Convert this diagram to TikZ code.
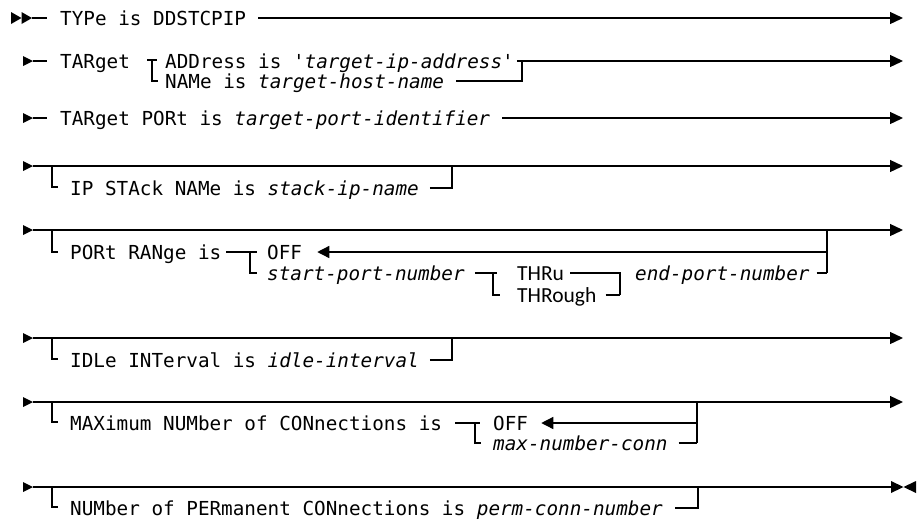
\documentclass[tikz,border=0pt]{standalone}
\usepackage{fontspec}
\newfontfamily\rrmono{DejaVu Sans Mono}[ItalicFont={DejaVu Sans Mono Oblique}]
\newfontfamily\thrufont{Carlito}
\usetikzlibrary{arrows.meta,calc}
\begin{document}
\begin{tikzpicture}[x=1pt,y=-1pt,
  rr/.style={line width=1.3pt},
  arr/.style={rr,-{Triangle[length=13pt,width=12pt]}},
  larr/.style={rr,-{Triangle[length=12pt,width=12pt]}},
  lbl/.style={anchor=base west,inner sep=0pt,font=\rrmono\fontsize{19.3}{22}\selectfont},
  thr/.style={anchor=base west,inner sep=0pt,font=\thrufont\fontsize{21.5}{22}\selectfont}
]
\useasboundingbox (0,0) rectangle (917,520);

% ---------- Row 1
\fill (11,12) -- (21.5,18) -- (11,24) -- cycle;
\fill (21.5,12) -- (32,18) -- (21.5,24) -- cycle;
\coordinate (r1a) at (32,18); \coordinate (r1b) at (47,18);
\draw[rr] (r1a) -- (r1b);
\node[lbl] (t1) at (60,25) {TYPe is DDSTCPIP};
\coordinate (r1e) at (903,18);
\draw[arr] ([xshift=12pt]t1.east |- r1e) -- (r1e);

% ---------- Row 2
\fill (23,56) -- (33,61) -- (23,66) -- cycle;
\coordinate (r2a) at (33,61); \coordinate (r2b) at (47,61);
\draw[rr] (r2a) -- (r2b);
\node[lbl] (t2) at (60,68) {TARget};
\coordinate (j2a) at (147,60); \coordinate (j2b) at (152,60); \coordinate (j2c) at (157,60);
\coordinate (j2d) at (152,81); \coordinate (j2e) at (158,81);
\draw[rr] (j2a) -- (j2c);
\draw[rr] (j2b) -- (j2d) -- (j2e);
\node[lbl] (t2a) at (165,68) {ADDress is '\textit{target-ip-address}'};
\node[lbl] (t2b) at (165,88) {NAMe is \textit{target-host-name}};
\coordinate (j2f) at (522,61); \coordinate (j2g) at (522,81); \coordinate (r2e) at (903,61);
\draw[arr] ([xshift=3pt]t2a.east |- r2e) -- (r2e);
\draw[rr] ([xshift=12pt]t2b.east |- j2g) -- (j2g) -- (j2f);

% ---------- Row 3
\fill (23,113) -- (33,118) -- (23,123) -- cycle;
\coordinate (r3a) at (33,118); \coordinate (r3b) at (47,118);
\draw[rr] (r3a) -- (r3b);
\node[lbl] (t3) at (60,125) {TARget PORt is \textit{target-port-identifier}};
\coordinate (r3e) at (903,118);
\draw[arr] ([xshift=12pt]t3.east |- r3e) -- (r3e);

% ---------- Row 4
\fill (23,161) -- (33,166) -- (23,171) -- cycle;
\coordinate (r4a) at (33,166); \coordinate (r4e) at (903,166);
\draw[arr] (r4a) -- (r4e);
\coordinate (j4a) at (52,166); \coordinate (j4b) at (52,187); \coordinate (j4c) at (58,187);
\draw[rr] (j4a) -- (j4b) -- (j4c);
\node[lbl] (t4) at (70,195) {IP STAck NAMe is \textit{stack-ip-name}};
\coordinate (j4d) at (452,188); \coordinate (j4e) at (452,166);
\draw[rr] ([xshift=11pt]t4.east |- j4d) -- (j4d) -- (j4e);

% ---------- Row 5
\fill (23,225) -- (33,230) -- (23,235) -- cycle;
\coordinate (r5a) at (33,230); \coordinate (r5e) at (903,230);
\draw[arr] (r5a) -- (r5e);
\coordinate (j5a) at (52,230); \coordinate (j5b) at (52,252); \coordinate (j5c) at (58,252);
\draw[rr] (j5a) -- (j5b) -- (j5c);
\node[lbl] (t5) at (70,259) {PORt RANge is};
\coordinate (j5d) at (250,252); \coordinate (j5e) at (257,252);
\coordinate (j5f) at (250,273); \coordinate (j5g) at (257,273);
\draw[rr] ([xshift=5pt]t5.east |- j5e) -- (j5e);
\draw[rr] (j5d) -- (j5f) -- (j5g);
\node[lbl] (off1) at (267,259) {OFF};
\coordinate (j5h) at (827,252); \coordinate (j5i) at (827,230); \coordinate (j5j) at (827,273);
\draw[larr] (j5h) -- ([xshift=15pt]off1.east |- j5h);
\draw[rr] (j5i) -- (j5j);
\node[lbl] (t5b) at (267,280) {\textit{start-port-number}};
\coordinate (j5k) at (493,273); \coordinate (j5l) at (497,273);
\coordinate (j5m) at (493,295); \coordinate (j5n) at (500,295);
\draw[rr] ([xshift=10pt]t5b.east |- j5l) -- (j5l);
\draw[rr] (j5k) -- (j5m) -- (j5n);
\node[thr] (thru) at (517,280) {THRu};
\node[thr] (through) at (517,302) {THRough};
\coordinate (j5o) at (620,273); \coordinate (j5p) at (620,295);
\draw[rr] ([xshift=6pt]thru.east |- j5o) -- (j5o) -- (j5p);
\draw[rr] ([xshift=9pt]through.east |- j5p) -- (j5p);
\node[lbl] (t5c) at (635,280) {\textit{end-port-number}};
\draw[rr] ([xshift=7pt]t5c.east |- j5j) -- (j5j);

% ---------- Row 6
\fill (23,333) -- (33,338) -- (23,343) -- cycle;
\coordinate (r6a) at (33,338); \coordinate (r6e) at (903,338);
\draw[arr] (r6a) -- (r6e);
\coordinate (j6a) at (52,338); \coordinate (j6b) at (52,359); \coordinate (j6c) at (58,359);
\draw[rr] (j6a) -- (j6b) -- (j6c);
\node[lbl] (t6) at (70,367) {IDLe INTerval is \textit{idle-interval}};
\coordinate (j6d) at (452,360); \coordinate (j6e) at (452,338);
\draw[rr] ([xshift=11pt]t6.east |- j6d) -- (j6d) -- (j6e);

% ---------- Row 7
\fill (23,397) -- (33,402) -- (23,407) -- cycle;
\coordinate (r7a) at (33,402); \coordinate (r7e) at (903,402);
\draw[arr] (r7a) -- (r7e);
\coordinate (j7a) at (52,402); \coordinate (j7b) at (52,422); \coordinate (j7c) at (58,422);
\draw[rr] (j7a) -- (j7b) -- (j7c);
\node[lbl] (t7) at (70,430) {MAXimum NUMber of CONnections is};
\coordinate (j7d) at (475,423); \coordinate (j7e) at (480,423);
\coordinate (j7f) at (475,443); \coordinate (j7g) at (481,443);
\draw[rr] ([xshift=13pt]t7.east |- j7e) -- (j7e);
\draw[rr] (j7d) -- (j7f) -- (j7g);
\node[lbl] (off2) at (493,430) {OFF};
\coordinate (j7h) at (697,423); \coordinate (j7i) at (697,402); \coordinate (j7j) at (697,443);
\draw[larr] (j7h) -- ([xshift=13pt]off2.east |- j7h);
\draw[rr] (j7i) -- (j7j);
\node[lbl] (t7b) at (493,450) {\textit{max-number-conn}};
\draw[rr] ([xshift=11pt]t7b.east |- j7j) -- (j7j);

% ---------- Row 8
\fill (23,482) -- (33,487) -- (23,492) -- cycle;
\coordinate (r8a) at (33,487); \coordinate (r8e) at (892,487);
\draw[rr] (r8a) -- (r8e);
\fill (891,481) -- (903.5,487) -- (891,493) -- cycle;
\fill (916,481) -- (903.5,487) -- (916,493) -- cycle;
\coordinate (j8a) at (52,487); \coordinate (j8b) at (52,507); \coordinate (j8c) at (58,507);
\draw[rr] (j8a) -- (j8b) -- (j8c);
\node[lbl] (t8) at (70,515) {NUMber of PERmanent CONnections is \textit{perm-conn-number}};
\coordinate (j8d) at (698,508); \coordinate (j8e) at (698,487);
\draw[rr] ([xshift=12pt]t8.east |- j8d) -- (j8d) -- (j8e);
\end{tikzpicture}
\end{document}
